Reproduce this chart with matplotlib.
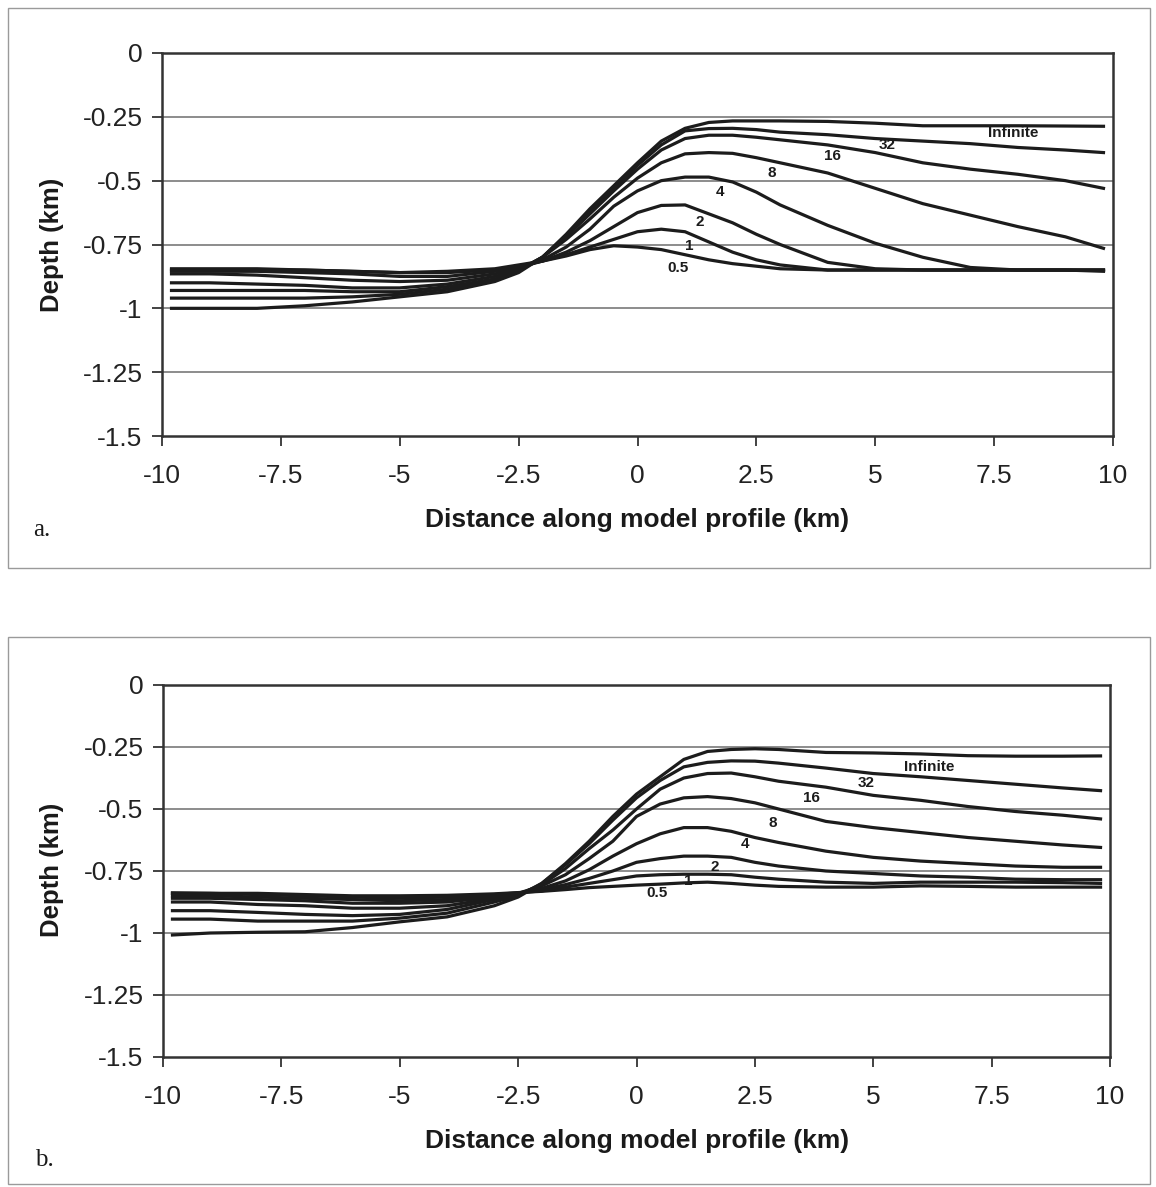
import matplotlib
matplotlib.use("Agg")
import matplotlib.pyplot as plt
from matplotlib.patches import Rectangle

plt.rcParams['font.family'] = ['Liberation Sans', 'DejaVu Sans']

# ---------------- data ----------------
x_km = [-9.8, -9, -8, -7, -6, -5, -4, -3, -2.5, -2, -1.5, -1, -0.5, 0,
        0.5, 1, 1.5, 2, 2.5, 3, 4, 5, 6, 7, 8, 9, 9.8]

labels = ["Infinite", "32", "16", "8", "4", "2", "1", "0.5"]

# Panel a
a_inf = [-1.0, -1.0, -1.0, -0.99, -0.975, -0.955, -0.935, -0.895, -0.86, -0.80, -0.71, -0.61, -0.52, -0.43,
         -0.345, -0.295, -0.272, -0.266, -0.266, -0.266, -0.268, -0.275, -0.285, -0.285, -0.285, -0.286, -0.287]
a_32 = [-0.96, -0.96, -0.96, -0.96, -0.955, -0.945, -0.925, -0.89, -0.855, -0.80, -0.715, -0.62, -0.53, -0.44,
        -0.36, -0.305, -0.296, -0.295, -0.30, -0.31, -0.32, -0.335, -0.345, -0.355, -0.37, -0.38, -0.39]
a_16 = [-0.93, -0.93, -0.93, -0.93, -0.935, -0.935, -0.915, -0.885, -0.85, -0.80, -0.72, -0.63, -0.54, -0.455,
        -0.38, -0.335, -0.322, -0.322, -0.33, -0.34, -0.36, -0.39, -0.43, -0.455, -0.475, -0.50, -0.53]
a_8 = [-0.90, -0.90, -0.905, -0.91, -0.92, -0.92, -0.905, -0.875, -0.85, -0.80, -0.73, -0.65, -0.565, -0.49,
       -0.43, -0.395, -0.39, -0.393, -0.41, -0.43, -0.47, -0.53, -0.59, -0.635, -0.68, -0.72, -0.765]
a_4 = [-0.865, -0.865, -0.87, -0.88, -0.89, -0.895, -0.89, -0.865, -0.845, -0.81, -0.76, -0.69, -0.60, -0.54,
       -0.50, -0.486, -0.486, -0.505, -0.545, -0.595, -0.675, -0.745, -0.80, -0.84, -0.85, -0.85, -0.855]
a_2 = [-0.855, -0.855, -0.855, -0.86, -0.865, -0.875, -0.875, -0.855, -0.84, -0.815, -0.78, -0.735, -0.68, -0.625,
       -0.597, -0.595, -0.63, -0.665, -0.71, -0.75, -0.82, -0.845, -0.85, -0.85, -0.85, -0.85, -0.85]
a_1 = [-0.85, -0.85, -0.85, -0.85, -0.855, -0.86, -0.86, -0.85, -0.835, -0.815, -0.79, -0.76, -0.73, -0.70,
       -0.69, -0.70, -0.74, -0.78, -0.81, -0.83, -0.85, -0.85, -0.85, -0.85, -0.85, -0.85, -0.85]
a_05 = [-0.845, -0.845, -0.845, -0.85, -0.855, -0.86, -0.855, -0.845, -0.83, -0.815, -0.795, -0.77, -0.755, -0.76,
        -0.77, -0.79, -0.81, -0.825, -0.835, -0.845, -0.85, -0.85, -0.85, -0.85, -0.85, -0.85, -0.85]

# Panel b
b_inf = [-1.008, -1.0, -0.997, -0.995, -0.978, -0.955, -0.935, -0.89, -0.855, -0.80, -0.72, -0.63, -0.53, -0.44,
         -0.37, -0.30, -0.268, -0.26, -0.257, -0.26, -0.272, -0.274, -0.278, -0.285, -0.287, -0.287, -0.286]
b_32 = [-0.944, -0.944, -0.952, -0.952, -0.952, -0.94, -0.92, -0.875, -0.85, -0.80, -0.725, -0.64, -0.545, -0.455,
        -0.385, -0.33, -0.312, -0.306, -0.307, -0.315, -0.335, -0.357, -0.37, -0.385, -0.40, -0.415, -0.426]
b_16 = [-0.91, -0.91, -0.917, -0.925, -0.93, -0.925, -0.905, -0.865, -0.845, -0.805, -0.74, -0.66, -0.585, -0.50,
        -0.42, -0.375, -0.357, -0.355, -0.37, -0.388, -0.412, -0.445, -0.465, -0.49, -0.51, -0.525, -0.54]
b_8 = [-0.875, -0.875, -0.885, -0.89, -0.90, -0.90, -0.89, -0.86, -0.84, -0.81, -0.765, -0.70, -0.63, -0.53,
       -0.48, -0.455, -0.45, -0.458, -0.475, -0.50, -0.55, -0.575, -0.595, -0.615, -0.63, -0.645, -0.655]
b_4 = [-0.86, -0.86, -0.865, -0.87, -0.88, -0.88, -0.875, -0.855, -0.84, -0.82, -0.79, -0.745, -0.69, -0.64,
       -0.60, -0.575, -0.575, -0.59, -0.615, -0.635, -0.67, -0.695, -0.71, -0.72, -0.73, -0.735, -0.735]
b_2 = [-0.85, -0.85, -0.855, -0.86, -0.865, -0.87, -0.865, -0.85, -0.84, -0.825, -0.805, -0.78, -0.75, -0.715,
       -0.70, -0.69, -0.69, -0.695, -0.715, -0.73, -0.75, -0.76, -0.77, -0.775, -0.783, -0.785, -0.785]
b_1 = [-0.84, -0.84, -0.845, -0.85, -0.855, -0.86, -0.855, -0.845, -0.838, -0.83, -0.815, -0.80, -0.785, -0.77,
       -0.765, -0.763, -0.763, -0.765, -0.775, -0.783, -0.795, -0.80, -0.795, -0.795, -0.795, -0.797, -0.80]
b_05 = [-0.838, -0.84, -0.84, -0.845, -0.85, -0.85, -0.848, -0.842, -0.837, -0.832, -0.825, -0.817, -0.812, -0.807,
        -0.803, -0.798, -0.795, -0.80, -0.807, -0.812, -0.815, -0.815, -0.81, -0.812, -0.815, -0.815, -0.815]

x_ticks = [-10, -7.5, -5, -2.5, 0, 2.5, 5, 7.5, 10]
x_tick_labels = ["-10", "-7.5", "-5", "-2.5", "0", "2.5", "5", "7.5", "10"]
y_ticks = [0, -0.25, -0.5, -0.75, -1, -1.25, -1.5]
y_tick_labels = ["0", "-0.25", "-0.5", "-0.75", "-1", "-1.25", "-1.5"]

# label anchor positions (data coords)
a_label_pos = [(7.9, -0.313), (5.25, -0.36), (4.11, -0.403), (2.83, -0.47),
               (1.73, -0.544), (1.31, -0.662), (1.08, -0.756), (0.85, -0.842)]
b_label_pos = [(6.18, -0.33), (4.85, -0.394), (3.69, -0.454), (2.87, -0.555),
               (2.3, -0.64), (1.65, -0.735), (1.1, -0.79), (0.44, -0.84)]

# ---------------- figure ----------------
W, H = 1156, 1187
fig = plt.figure(figsize=(W / 100, H / 100), dpi=100)
fig.patch.set_facecolor("white")


def rect(l, t, r, b):
    return [l / W, 1 - b / H, (r - l) / W, (b - t) / H]


def fx(px):
    return px / W


def fy(py):
    return 1 - py / H


# panel frames
for (l, t, r, b) in [(8, 8, 1150, 568), (8, 637, 1150, 1184)]:
    fig.patches.append(Rectangle((fx(l), fy(b)), fx(r) - fx(l), fy(t) - fy(b),
                                 transform=fig.transFigure, fill=False,
                                 edgecolor="#9a9a9a", linewidth=1.0))


def draw_panel(ax, series, label_pos):
    ax.set_xlim(-10, 10)
    ax.set_ylim(-1.5, 0)
    for yv in y_ticks[1:-1]:
        ax.axhline(yv, color="#6e6e6e", linewidth=1.1, zorder=1)
    for ys in series:
        ax.plot(x_km, ys, color="#1c1c1c", linewidth=2.3, zorder=3,
                solid_joinstyle="round")
    for lab, (lx, ly) in zip(labels, label_pos):
        ax.text(lx, ly, lab, ha="center", va="center", fontsize=11,
                fontweight="bold", color="#1c1c1c", zorder=4)
    ax.set_xticks(x_ticks)
    ax.set_xticklabels(x_tick_labels)
    ax.set_yticks(y_ticks)
    ax.set_yticklabels(y_tick_labels)
    ax.tick_params(axis="both", labelsize=19, colors="#222222", direction="out",
                   length=7, width=1.2)
    ax.tick_params(axis="y", pad=7)
    ax.tick_params(axis="x", pad=13)
    for sp in ax.spines.values():
        sp.set_color("#333333")
        sp.set_linewidth(1.8)


axa = fig.add_axes(rect(162, 53, 1113, 436))
draw_panel(axa, [a_inf, a_32, a_16, a_8, a_4, a_2, a_1, a_05], a_label_pos)
axb = fig.add_axes(rect(163, 685, 1110, 1057))
draw_panel(axb, [b_inf, b_32, b_16, b_8, b_4, b_2, b_1, b_05], b_label_pos)

# axis titles and panel letters
for yc_x, yc_y in [(520, 245), (1141, 870)]:
    fig.text(fx(637), fy(yc_x), "Distance along model profile (km)", ha="center",
             va="center", fontsize=19, fontweight="bold", color="#1a1a1a")
    fig.text(fx(52), fy(yc_y), "Depth (km)", ha="center", va="center",
             rotation=90, fontsize=18.5, fontweight="bold", color="#1a1a1a")

fig.text(fx(33), fy(530), "a.", ha="left", va="center", fontsize=18,
         family=["Liberation Serif", "DejaVu Serif"], color="#1a1a1a")
fig.text(fx(35), fy(1160), "b.", ha="left", va="center", fontsize=18,
         family=["Liberation Serif", "DejaVu Serif"], color="#1a1a1a")

fig.savefig("out.png", dpi=100, facecolor="white")
